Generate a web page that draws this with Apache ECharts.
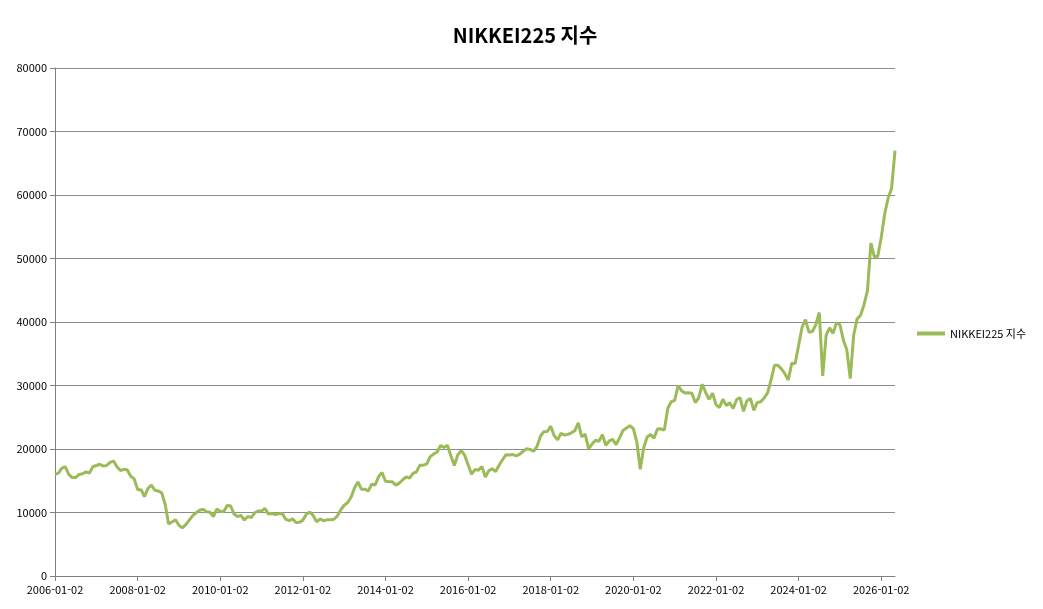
<!DOCTYPE html>
<html lang="ko">
<head>
<meta charset="utf-8" />
<title>NIKKEI225 지수</title>
<script src="https://cdn.jsdelivr.net/npm/echarts@6/dist/echarts.min.js"></script>
<style>
  html, body { margin: 0; padding: 0; background: #fff; }
  #chart { width: 1043px; height: 609px; }
</style>
</head>
<body>
<div id="chart"></div>
<script>
// 월별 종가 (그림에서 읽은 근사값)
var years = [2006, 2007, 2008, 2009, 2010, 2011, 2012, 2013, 2014, 2015, 2016,
             2017, 2018, 2019, 2020, 2021, 2022, 2023, 2024, 2025, 2026];
var nikkei = [
  16000,16200,17000,17200,16000,15500,15500,16000,16100,16400,16200,17200,
  17400,17600,17300,17400,17900,18100,17200,16600,16800,16700,15700,15300,
  13600,13600,12500,13800,14300,13500,13400,13100,11300,8200,8500,8860,
  7990,7570,8100,8800,9500,9960,10350,10500,10130,10030,9350,10550,
  10200,10130,11090,11060,9770,9380,9540,8820,9370,9200,9940,10230,
  10240,10620,9750,9850,9690,9820,9830,8960,8700,8990,8430,8450,
  8800,9720,10080,9520,8540,9000,8700,8840,8870,8930,9450,10400,
  11140,11560,12400,13860,14800,13680,13670,13390,14460,14330,15660,16290,
  14910,14840,14830,14300,14630,15160,15620,15420,16170,16410,17460,17450,
  17670,18800,19200,19520,20560,20240,20590,18890,17390,19080,19750,19030,
  17520,16030,16760,16670,17230,15580,16570,16890,16450,17430,18310,19110,
  19040,19120,18910,19200,19650,20030,19930,19650,20360,22010,22720,22760,
  23600,22070,21450,22470,22200,22300,22550,22870,24120,21920,22350,20010,
  20770,21380,21200,22260,20600,21280,21520,20700,21750,22930,23290,23660,
  23200,21140,16800,20190,21880,22290,21710,23140,23180,22980,26430,27440,
  27660,30000,29180,28810,28860,28790,27280,28090,30200,28890,27820,28790,
  27000,26530,27820,26850,27280,26390,27800,28090,25940,27590,27970,26090,
  27330,27450,28040,28850,30890,33190,33170,32620,31860,30860,33490,33460,
  36290,39170,40370,38400,38490,39580,41500,31500,37920,39080,38210,39890,
  39570,37160,35620,31100,37960,40490,41070,42720,44930,52410,50250,50340,
  53300,57000,59500,61000,67000
];
var seriesName = 'NIKKEI225 지수';

var dates = [];
years.forEach(function (y) {
  for (var m = 1; m <= 12; m++) {
    if (dates.length < nikkei.length) dates.push(y + '-' + (m < 10 ? '0' + m : m) + '-02');
  }
});

var chart = echarts.init(document.getElementById('chart'));
chart.setOption({
  animation: false,
  textStyle: { fontFamily: 'Noto Sans CJK KR, sans-serif' },
  title: {
    text: seriesName,
    left: 520, top: 20, textAlign: 'center',
    textStyle: { fontSize: 20, fontWeight: 'bold', color: '#000', fontFamily: 'Noto Sans CJK KR' }
  },
  legend: {
    data: [seriesName],
    orient: 'vertical',
    left: 912, top: 323,
    itemWidth: 28, itemHeight: 4,
    icon: 'rect',
    textStyle: { fontSize: 11, color: '#000' }
  },
  grid: { left: 55, right: 148, top: 68, bottom: 33 },
  xAxis: {
    type: 'category',
    data: dates,
    boundaryGap: false,
    axisLine: { lineStyle: { color: '#808080' } },
    axisTick: { interval: 23, lineStyle: { color: '#808080' } },
    axisLabel: { interval: 23, color: '#000', fontSize: 11, fontFamily: 'Noto Sans CJK KR' }
  },
  yAxis: {
    type: 'value',
    min: 0, max: 80000, interval: 10000,
    axisLine: { show: true, lineStyle: { color: '#808080' } },
    axisTick: { show: true, lineStyle: { color: '#808080' } },
    axisLabel: {
      color: '#000', fontSize: 11, fontFamily: 'Noto Sans CJK KR',
      formatter: function (v) { return String(v); }
    },
    splitLine: { lineStyle: { color: '#8c8c8c' } }
  },
  series: [{
    name: seriesName,
    type: 'line',
    data: nikkei,
    showSymbol: false,
    itemStyle: { color: '#9bbb59' },
    lineStyle: { color: '#9bbb59', width: 3 }
  }]
});
</script>
</body>
</html>
